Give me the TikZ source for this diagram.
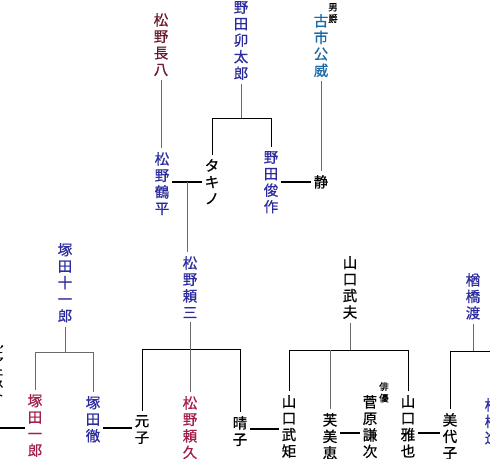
\documentclass[tikz,border=0pt]{standalone}
\usepackage{fontspec}
\newfontfamily\cjk[FakeBold=0.7]{Noto Sans CJK JP}
\newfontfamily\cjksmall[FakeBold=0.4]{Noto Sans CJK JP}
\usetikzlibrary{calc}
\definecolor{nblue}{HTML}{2B2B9E}
\definecolor{ncrim}{HTML}{A01E48}
\definecolor{nmaroon}{HTML}{6A1A2C}
\definecolor{nteal}{HTML}{1A6AA8}
\definecolor{stemgray}{HTML}{6A6A6A}
\tikzset{
  person/.style={font=\cjk\fontsize{14.5}{16.5}\selectfont, align=center, anchor=north, inner xsep=3pt, inner ysep=4pt},
  note/.style={font=\cjksmall\fontsize{9.5}{11.5}\selectfont, align=center, anchor=north, inner sep=0pt},
  stem/.style={draw=stemgray, line width=1pt},
  bar/.style={draw=black, line width=1pt},
  marr/.style={draw=black, line width=2pt},
}
\begin{document}
\begin{tikzpicture}[x=1pt,y=-1pt]
\useasboundingbox (0,0) rectangle (490,458);
\clip (0,0) rectangle (490,458);
% top generation
\node[person, text=nmaroon] (chohachi) at (161,9) {松\\野\\長\\八};
\node[person, text=nblue] (utaro) at (241,-3) {野\\田\\卯\\太\\郎};
\node[note] (danshaku) at (333,3) {男\\爵};
\node[person, text=nteal] (koi) at (321,10) {古\\市\\公\\威};
% second generation
\node[person, text=nblue] (tsuruhei) at (162,148) {松\\野\\鶴\\平};
\node[person] (takino) at (212,155) {タ\\キ\\ノ};
\node[person, text=nblue] (shunsaku) at (271,147) {野\\田\\俊\\作};
\node[person] (shizu) at (321,171) {静};
% third generation
\node[person, text=nblue] (juichiro) at (65,239) {塚\\田\\十\\一\\郎};
\node[person, text=nblue] (raizo) at (190,252) {松\\野\\頼\\三};
\node[person] (takeo) at (350,252) {山\\口\\武\\夫};
\node[person, text=nblue] (wataru) at (473,269) {楢\\橋\\渡};
% fourth generation
\node[note] (leftnote) at (-1,345) {ピ\\ア\\ニ\\ス\\ト};
\coordinate (leftend) at (-2,428);
\node[person, text=ncrim] (ichiro) at (35,390) {塚\\田\\一\\郎};
\node[person, text=nblue] (toru) at (93,392) {塚\\田\\徹};
\node[person] (motoko) at (142,411) {元\\子};
\node[person, text=ncrim] (raikyu) at (190,392) {松\\野\\頼\\久};
\node[person] (haruko) at (240,412) {晴\\子};
\node[person] (takenori) at (289,391) {山\\口\\武\\矩};
\node[person] (fumie) at (330,409) {芙\\美\\恵};
\node[note] (haiyu) at (384,382) {俳\\優};
\node[person] (kenji) at (370,391) {菅\\原\\謙\\次};
\node[person] (masaya) at (408,391) {山\\口\\雅\\也};
\node[person] (miyoko) at (450,409) {美\\代\\子};
\node[person, text=nblue] (susumu) at (492,394) {楢\\橋\\進};
% connectors top
\draw[stem] (chohachi.south) -- (chohachi.south |- tsuruhei.north);
\coordinate (b1) at (0,118);
\draw[stem] (utaro.south) -- (utaro.south |- b1);
\draw[bar] (takino.north |- b1) -- (shunsaku.north |- b1);
\draw[bar] (takino.north |- b1) -- (takino.north);
\draw[bar] (shunsaku.north |- b1) -- (shunsaku.north);
\draw[stem] (koi.south) -- (koi.south |- shizu.north);
\coordinate (y1) at (0,182);
\draw[marr] (tsuruhei.east |- y1) -- coordinate (m1) (takino.west |- y1);
\draw[marr] (shunsaku.east |- y1) -- (shizu.west |- y1);
\draw[stem] (m1) -- (m1 |- raizo.north);
% Tsukada family
\coordinate (b2) at (0,352);
\draw[stem] (juichiro.south) -- (juichiro.south |- b2);
\draw[stem] (ichiro.north |- b2) -- (toru.north |- b2);
\draw[stem] (ichiro.north |- b2) -- (ichiro.north);
\draw[stem] (toru.north |- b2) -- (toru.north);
\coordinate (y2) at (0,428);
\draw[marr] (leftend) -- (ichiro.west |- y2);
\draw[marr] (toru.east |- y2) -- (motoko.west |- y2);
% Matsuno family
\coordinate (b3) at (0,349);
\draw[stem] (raizo.south) -- (raizo.south |- b3);
\draw[bar] (motoko.north |- b3) -- (haruko.north |- b3);
\draw[bar] (motoko.north |- b3) -- (motoko.north);
\draw[stem] (raizo.south |- b3) -- (raikyu.north);
\draw[bar] (haruko.north |- b3) -- (haruko.north);
\coordinate (y3) at (0,429);
\draw[marr] (haruko.east |- y3) -- (takenori.west |- y3);
% Yamaguchi family
\coordinate (b4) at (0,350);
\draw[stem] (takeo.south) -- (takeo.south |- b4);
\draw[bar] (takenori.north |- b4) -- (masaya.north |- b4);
\draw[bar] (takenori.north |- b4) -- (takenori.north);
\draw[stem] (fumie.north |- b4) -- (fumie.north);
\draw[bar] (masaya.north |- b4) -- (masaya.north);
\coordinate (y4) at (0,433);
\draw[marr] (fumie.east |- y4) -- (kenji.west |- y4);
\draw[marr] (masaya.east |- y4) -- (miyoko.west |- y4);
% Narahashi family
\coordinate (b5) at (0,351);
\draw[stem] (wataru.south) -- (wataru.south |- b5);
\draw[bar] (miyoko.north |- b5) -- (susumu.north |- b5);
\draw[bar] (miyoko.north |- b5) -- (miyoko.north);
\draw[bar] (susumu.north |- b5) -- (susumu.north);
\end{tikzpicture}
\end{document}
